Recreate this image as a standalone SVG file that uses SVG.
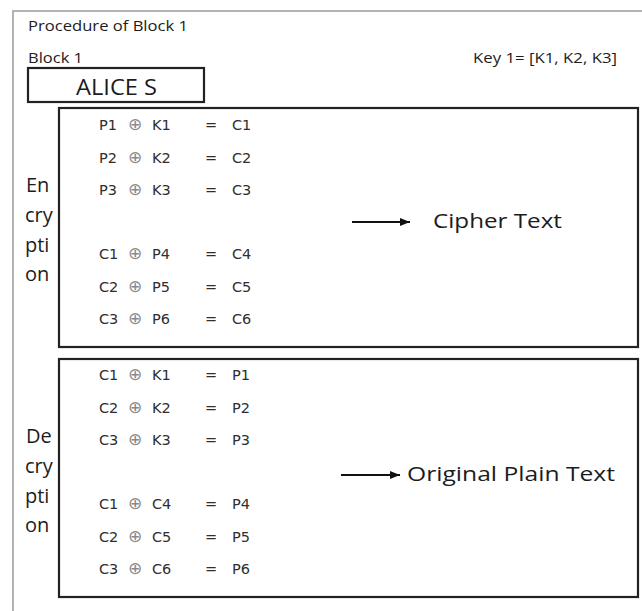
<svg xmlns="http://www.w3.org/2000/svg" width="642" height="611" viewBox="0 0 642 611">
  <style>
    .frame { fill: none; stroke: #9a9a9a; stroke-width: 1.5; }
    .box { fill: #ffffff; stroke: #222222; stroke-width: 2.2; }
    .lbl { font-family: "Open Sans", "Noto Sans", sans-serif; fill: #1c1c1c; }
    .eq { font-family: "DejaVu Sans", Verdana, sans-serif; font-size: 14.5px; fill: #2e2e2e; }
    .xor { font-family: "DejaVu Sans", sans-serif; font-size: 17px; fill: #8a8a8a; text-anchor: middle; }
    .arrow { stroke: #111111; stroke-width: 2; fill: none; }
  </style>
  <defs>
    <marker id="head" viewBox="0 0 10 8" refX="10" refY="4" markerWidth="12" markerHeight="8" orient="auto" markerUnits="userSpaceOnUse">
      <path d="M0,0 L10,4 L0,8 Z" fill="#111111"/>
    </marker>
  </defs>
  <rect width="642" height="611" fill="#ffffff"/>

  <!-- page frame: top and left edges only -->
  <path class="frame" d="M13,611 L13,11 L642,11"/>

  <g id="header">
    <text class="lbl" x="28" y="31" font-size="14.5" textLength="160" lengthAdjust="spacingAndGlyphs">Procedure of Block 1</text>
    <text class="lbl" x="28" y="63" font-size="14.5" textLength="55" lengthAdjust="spacingAndGlyphs">Block 1</text>
    <text class="lbl" x="473" y="63" font-size="14.5" textLength="144" lengthAdjust="spacingAndGlyphs">Key 1= [K1, K2, K3]</text>
  </g>

  <g id="alice">
    <rect class="box" x="28" y="68" width="176" height="34"/>
    <text class="lbl" x="76" y="95" font-size="21" textLength="81" lengthAdjust="spacingAndGlyphs">ALICE S</text>
  </g>

  <g id="encryption">
    <rect class="box" x="59" y="108" width="579" height="239"/>
    <g class="lbl" font-size="20">
      <text x="26" y="192">En</text>
      <text x="25" y="222">cry</text>
      <text x="25" y="252">pti</text>
      <text x="25" y="281">on</text>
    </g>
    <g class="eq">
      <text x="99" y="130">P1</text><text x="152" y="130">K1</text><text x="205" y="130">=</text><text x="232" y="130">C1</text>
      <text x="99" y="163">P2</text><text x="152" y="163">K2</text><text x="205" y="163">=</text><text x="232" y="163">C2</text>
      <text x="99" y="195">P3</text><text x="152" y="195">K3</text><text x="205" y="195">=</text><text x="232" y="195">C3</text>
      <text x="99" y="259">C1</text><text x="152" y="259">P4</text><text x="205" y="259">=</text><text x="232" y="259">C4</text>
      <text x="99" y="292">C2</text><text x="152" y="292">P5</text><text x="205" y="292">=</text><text x="232" y="292">C5</text>
      <text x="99" y="324">C3</text><text x="152" y="324">P6</text><text x="205" y="324">=</text><text x="232" y="324">C6</text>
    </g>
    <g class="xor">
      <text x="135" y="130">⊕</text><text x="135" y="163">⊕</text><text x="135" y="195">⊕</text>
      <text x="135" y="259">⊕</text><text x="135" y="292">⊕</text><text x="135" y="324">⊕</text>
    </g>
    <text class="lbl" x="433" y="228" font-size="20" textLength="129" lengthAdjust="spacingAndGlyphs">Cipher Text</text>
  </g>

  <g id="decryption">
    <rect class="box" x="59" y="359" width="579" height="238"/>
    <g class="lbl" font-size="20">
      <text x="26" y="443">De</text>
      <text x="25" y="473">cry</text>
      <text x="25" y="503">pti</text>
      <text x="25" y="532">on</text>
    </g>
    <g class="eq">
      <text x="99" y="380">C1</text><text x="152" y="380">K1</text><text x="205" y="380">=</text><text x="232" y="380">P1</text>
      <text x="99" y="413">C2</text><text x="152" y="413">K2</text><text x="205" y="413">=</text><text x="232" y="413">P2</text>
      <text x="99" y="445">C3</text><text x="152" y="445">K3</text><text x="205" y="445">=</text><text x="232" y="445">P3</text>
      <text x="99" y="509">C1</text><text x="152" y="509">C4</text><text x="205" y="509">=</text><text x="232" y="509">P4</text>
      <text x="99" y="542">C2</text><text x="152" y="542">C5</text><text x="205" y="542">=</text><text x="232" y="542">P5</text>
      <text x="99" y="574">C3</text><text x="152" y="574">C6</text><text x="205" y="574">=</text><text x="232" y="574">P6</text>
    </g>
    <g class="xor">
      <text x="135" y="380">⊕</text><text x="135" y="413">⊕</text><text x="135" y="445">⊕</text>
      <text x="135" y="509">⊕</text><text x="135" y="542">⊕</text><text x="135" y="574">⊕</text>
    </g>
    <text class="lbl" x="407" y="481" font-size="20" textLength="208" lengthAdjust="spacingAndGlyphs">Original Plain Text</text>
  </g>

  <g id="connectors">
    <line class="arrow" x1="352" y1="222" x2="410" y2="222" marker-end="url(#head)"/>
    <line class="arrow" x1="341" y1="475" x2="400" y2="475" marker-end="url(#head)"/>
  </g>
</svg>
